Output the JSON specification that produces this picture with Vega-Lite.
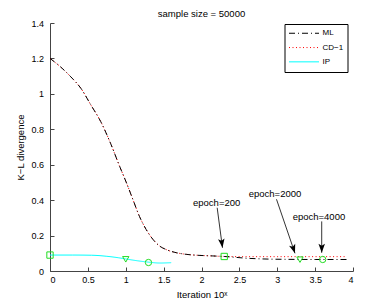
{
  "$schema": "https://vega.github.io/schema/vega-lite/v6.json",
  "autosize": {"type": "none"},
  "padding": {"left": 50, "top": 23, "right": 37, "bottom": 35},
  "width": 303,
  "height": 248,
  "background": "#ffffff",
  "title": {"text": "sample size = 50000", "fontSize": 9.5, "fontWeight": "normal", "font": "Liberation Sans", "anchor": "middle", "baseline": "alphabetic", "offset": -7, "color": "#000"},
  "config": {
    "view": {"stroke": null},
    "axis": {"domainColor": "#444", "tickColor": "#444", "labelColor": "#000", "labelFont": "Liberation Sans", "labelFontSize": 9, "titleFont": "Liberation Sans", "titleFontSize": 9.5, "titleFontWeight": "normal", "titleColor": "#000", "grid": false, "tickSize": -4, "domainWidth": 1, "tickWidth": 1, "labelOverlap": false}
  },
  "datasets": {
    "curves": [
      {"series": "CD−1", "x": 0, "y": 1.2}, {"series": "CD−1", "x": 0.14, "y": 1.152}, {"series": "CD−1", "x": 0.275, "y": 1.096}, {"series": "CD−1", "x": 0.41, "y": 1.03}, {"series": "CD−1", "x": 0.54, "y": 0.937}, {"series": "CD−1", "x": 0.67, "y": 0.843}, {"series": "CD−1", "x": 0.8, "y": 0.72}, {"series": "CD−1", "x": 0.92, "y": 0.59}, {"series": "CD−1", "x": 1.01, "y": 0.497}, {"series": "CD−1", "x": 1.095, "y": 0.403}, {"series": "CD−1", "x": 1.18, "y": 0.309}, {"series": "CD−1", "x": 1.27, "y": 0.234}, {"series": "CD−1", "x": 1.36, "y": 0.178}, {"series": "CD−1", "x": 1.45, "y": 0.14}, {"series": "CD−1", "x": 1.54, "y": 0.12}, {"series": "CD−1", "x": 1.67, "y": 0.103}, {"series": "CD−1", "x": 1.8, "y": 0.094}, {"series": "CD−1", "x": 1.98, "y": 0.088}, {"series": "CD−1", "x": 2.15, "y": 0.085}, {"series": "CD−1", "x": 2.3, "y": 0.082}, {"series": "CD−1", "x": 2.6, "y": 0.081}, {"series": "CD−1", "x": 3.0, "y": 0.081}, {"series": "CD−1", "x": 3.5, "y": 0.081}, {"series": "CD−1", "x": 3.92, "y": 0.081},
      {"series": "ML", "x": 0, "y": 1.2}, {"series": "ML", "x": 0.14, "y": 1.152}, {"series": "ML", "x": 0.275, "y": 1.096}, {"series": "ML", "x": 0.41, "y": 1.03}, {"series": "ML", "x": 0.54, "y": 0.937}, {"series": "ML", "x": 0.67, "y": 0.843}, {"series": "ML", "x": 0.8, "y": 0.72}, {"series": "ML", "x": 0.92, "y": 0.59}, {"series": "ML", "x": 1.01, "y": 0.497}, {"series": "ML", "x": 1.095, "y": 0.403}, {"series": "ML", "x": 1.18, "y": 0.309}, {"series": "ML", "x": 1.27, "y": 0.234}, {"series": "ML", "x": 1.36, "y": 0.178}, {"series": "ML", "x": 1.45, "y": 0.14}, {"series": "ML", "x": 1.54, "y": 0.12}, {"series": "ML", "x": 1.67, "y": 0.103}, {"series": "ML", "x": 1.8, "y": 0.094}, {"series": "ML", "x": 1.98, "y": 0.088}, {"series": "ML", "x": 2.15, "y": 0.085}, {"series": "ML", "x": 2.3, "y": 0.082}, {"series": "ML", "x": 2.45, "y": 0.077}, {"series": "ML", "x": 2.6, "y": 0.072}, {"series": "ML", "x": 2.75, "y": 0.069}, {"series": "ML", "x": 2.9, "y": 0.067}, {"series": "ML", "x": 3.1, "y": 0.066}, {"series": "ML", "x": 3.5, "y": 0.065}, {"series": "ML", "x": 3.92, "y": 0.065},
      {"series": "IP", "x": 0, "y": 0.09}, {"series": "IP", "x": 0.3, "y": 0.09}, {"series": "IP", "x": 0.55, "y": 0.089}, {"series": "IP", "x": 0.75, "y": 0.083}, {"series": "IP", "x": 0.9, "y": 0.075}, {"series": "IP", "x": 1.0, "y": 0.068}, {"series": "IP", "x": 1.15, "y": 0.058}, {"series": "IP", "x": 1.3, "y": 0.05}, {"series": "IP", "x": 1.45, "y": 0.045}, {"series": "IP", "x": 1.6, "y": 0.047}
    ],
    "markers": [
      {"epoch": "200", "x": 0, "y": 0.09}, {"epoch": "2000", "x": 1, "y": 0.066}, {"epoch": "4000", "x": 1.3, "y": 0.048},
      {"epoch": "200", "x": 2.3, "y": 0.082}, {"epoch": "2000", "x": 3.3, "y": 0.064}, {"epoch": "4000", "x": 3.6, "y": 0.065}
    ],
    "notes": [
      {"label": "epoch=200", "tx": 2.2, "ty": 0.385, "sx": 2.207, "sy": 0.357, "ex": 2.277, "ey": 0.131, "heading": -7.7},
      {"label": "epoch=2000", "tx": 2.97, "ty": 0.434, "sx": 2.99, "sy": 0.405, "ex": 3.234, "ey": 0.1, "heading": -18.5},
      {"label": "epoch=4000", "tx": 3.55, "ty": 0.303, "sx": 3.587, "sy": 0.28, "ex": 3.587, "ey": 0.103, "heading": 0}
    ]
  },
  "layer": [
    {
      "data": {"name": "curves"},
      "mark": {"type": "line", "strokeWidth": 1, "interpolate": "monotone"},
      "encoding": {
        "x": {"field": "x", "type": "quantitative", "scale": {"domain": [0, 4], "nice": false}, "axis": {"values": [0, 0.5, 1, 1.5, 2, 2.5, 3, 3.5, 4], "tickCount": 50, "format": "~g", "title": "Iteration 10ˣ", "labelPadding": 8, "titlePadding": 5, "labelOverlap": false, "labelBound": false}},
        "y": {"field": "y", "type": "quantitative", "scale": {"domain": [0, 1.4], "nice": false}, "axis": {"values": [0, 0.2, 0.4, 0.6, 0.8, 1, 1.2, 1.4], "tickCount": 50, "format": "~g", "title": "K−L divergence", "labelPadding": 10.5, "titlePadding": 5, "labelOverlap": false, "labelBound": false}},
        "color": {"field": "series", "type": "nominal", "scale": {"domain": ["ML", "CD−1", "IP"], "range": ["#000000", "#ff0000", "#00ffff"]}, "legend": {"title": null, "orient": "none", "legendX": 234.5, "legendY": 1, "symbolType": "stroke", "symbolSize": 900, "symbolStrokeWidth": 1, "clipHeight": 10.5, "labelFontSize": 8, "labelFont": "Liberation Sans", "labelColor": "#000", "strokeColor": "#000", "fillColor": "#fff", "padding": 4, "labelOffset": 3, "rowPadding": 3.3}},
        "strokeDash": {"field": "series", "type": "nominal", "scale": {"domain": ["ML", "CD−1", "IP"], "range": [[6, 3, 1, 3], [1, 2.5], [1, 0]]}},
        "order": {"field": "x", "type": "quantitative"}
      }
    },
    {
      "data": {"name": "markers"},
      "mark": {"type": "point", "filled": false, "strokeWidth": 1, "color": "#22dd22", "size": 40, "opacity": 1},
      "encoding": {
        "x": {"field": "x", "type": "quantitative"},
        "y": {"field": "y", "type": "quantitative"},
        "shape": {"field": "epoch", "type": "nominal", "scale": {"domain": ["200", "2000", "4000"], "range": ["square", "triangle-down", "circle"]}, "legend": null}
      }
    },
    {
      "data": {"name": "notes"},
      "mark": {"type": "rule", "color": "#000", "strokeWidth": 0.8},
      "encoding": {
        "x": {"field": "sx", "type": "quantitative"},
        "y": {"field": "sy", "type": "quantitative"},
        "x2": {"field": "ex"},
        "y2": {"field": "ey"}
      }
    },
    {
      "data": {"name": "notes"},
      "mark": {"type": "point", "filled": true, "color": "#000", "size": 100, "opacity": 1, "shape": "M0,0L-0.65,-1.8L0,-1.4L0.65,-1.8Z"},
      "encoding": {
        "x": {"field": "ex", "type": "quantitative"},
        "y": {"field": "ey", "type": "quantitative"},
        "angle": {"field": "heading", "type": "quantitative", "scale": null}
      }
    },
    {
      "data": {"name": "notes"},
      "mark": {"type": "text", "font": "Liberation Sans", "fontSize": 9.5, "color": "#000", "align": "center", "baseline": "middle"},
      "encoding": {
        "x": {"field": "tx", "type": "quantitative"},
        "y": {"field": "ty", "type": "quantitative"},
        "text": {"field": "label"}
      }
    }
  ]
}
